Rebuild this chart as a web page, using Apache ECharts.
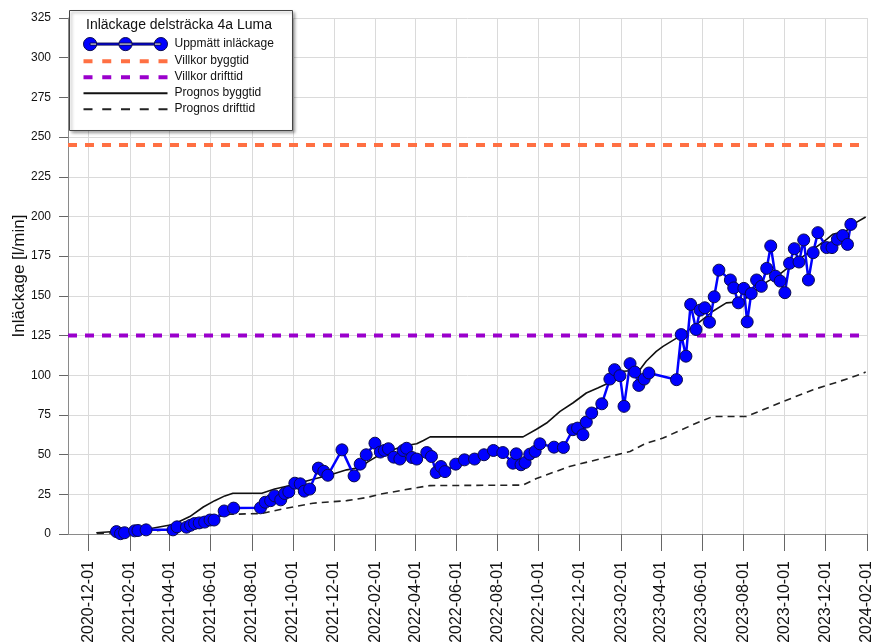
<!DOCTYPE html>
<html>
<head>
<meta charset="utf-8">
<script src="https://cdn.jsdelivr.net/npm/echarts@6/dist/echarts.min.js"></script>
<style>
html,body{margin:0;padding:0;background:#fff;}
#chart{width:873px;height:644px;}
</style>
</head>
<body>
<div id="chart"></div>
<script>
// ---- Data ----
const tickLabels = ['2020-12-01','2021-02-01','2021-04-01','2021-06-01','2021-08-01','2021-10-01','2021-12-01',
  '2022-02-01','2022-04-01','2022-06-01','2022-08-01','2022-10-01','2022-12-01',
  '2023-02-01','2023-04-01','2023-06-01','2023-08-01','2023-10-01','2023-12-01','2024-02-01'];
const xStart = '2020-11-01';
const xEnd = '2024-02-01';

const measDates = ['2021-01-12','2021-01-18','2021-01-24','2021-02-08','2021-02-13','2021-02-25','2021-04-06','2021-04-12',
  '2021-04-26','2021-05-02','2021-05-08','2021-05-15','2021-05-23','2021-05-31','2021-06-06','2021-06-21','2021-07-05',
  '2021-08-14','2021-08-21','2021-08-29','2021-09-04','2021-09-13','2021-09-19','2021-09-25','2021-10-04','2021-10-12',
  '2021-10-18','2021-10-26','2021-11-08','2021-11-16','2021-11-22','2021-12-13','2021-12-31','2022-01-09','2022-01-18',
  '2022-01-31','2022-02-08','2022-02-14','2022-02-20','2022-02-28','2022-03-09','2022-03-14','2022-03-19','2022-03-27',
  '2022-04-03','2022-04-18','2022-04-25','2022-05-02','2022-05-09','2022-05-15','2022-05-31','2022-06-13','2022-06-28',
  '2022-07-12','2022-07-26','2022-08-09','2022-08-24','2022-08-29','2022-09-05','2022-09-11','2022-09-18','2022-09-26',
  '2022-10-03','2022-10-24','2022-11-07','2022-11-21','2022-11-28','2022-12-06','2022-12-11','2022-12-19','2023-01-03',
  '2023-01-15','2023-01-22','2023-01-30','2023-02-05','2023-02-14','2023-02-21','2023-02-27','2023-03-07','2023-03-14',
  '2023-04-24','2023-05-01','2023-05-08','2023-05-15','2023-05-23','2023-05-29','2023-06-05','2023-06-12','2023-06-19',
  '2023-06-26','2023-07-13','2023-07-18','2023-07-25','2023-08-02','2023-08-07','2023-08-13','2023-08-21','2023-08-28',
  '2023-09-05','2023-09-11','2023-09-18','2023-09-25','2023-10-02','2023-10-09','2023-10-16','2023-10-23','2023-10-30',
  '2023-11-06','2023-11-13','2023-11-20','2023-12-03','2023-12-11','2023-12-19','2023-12-27','2024-01-03','2024-01-08'];
const measValues = [1.5,0.2,0.8,2.0,2.2,2.6,2.6,4.5,
  4.3,5.5,6.6,7.0,7.5,8.8,8.8,14.5,16.3,
  16.5,20.0,21.0,24.0,21.5,25.5,26.5,32.0,31.6,
  27.0,28.3,41.5,39.5,37.0,53.0,36.6,44.0,49.9,
  57.2,51.6,52.6,53.7,48.4,47.2,52.6,54.0,48.2,
  47.2,51.3,48.8,38.7,42.5,39.3,44.0,46.7,47.2,
  49.9,52.6,51.3,44.6,50.5,43.6,45.0,50.3,52.0,
  56.8,54.7,54.5,65.7,66.7,62.5,70.5,76.2,82.0,
  97.6,103.5,99.7,80.4,107.3,102.0,93.6,97.6,101.4,
  97.2,125.6,112.0,144.6,128.8,141.0,142.5,133.4,149.4,
  166.2,160.0,155.0,145.6,154.7,133.6,151.5,160.0,156.0,
  167.3,181.4,162.4,159.3,152.0,170.5,179.7,171.3,185.2,
  160.0,177.2,189.8,180.4,180.4,185.6,188.0,182.4,195.0];

const byggDates = ['2020-12-13','2021-02-26','2021-04-06','2021-05-01','2021-05-21','2021-06-07','2021-06-22','2021-07-04',
  '2021-08-16','2021-09-04','2021-09-27','2021-10-31','2021-11-25','2021-12-20','2022-01-09','2022-01-21','2022-02-07',
  '2022-02-27','2022-03-16','2022-04-03','2022-04-13','2022-04-23','2022-09-08','2022-09-28','2022-10-13','2022-11-02',
  '2022-11-21','2022-12-11','2022-12-28','2023-01-10','2023-01-20','2023-02-04','2023-02-28','2023-03-10','2023-03-25',
  '2023-04-04','2023-04-29','2023-05-24','2023-06-17','2023-07-07','2023-07-27','2023-08-06','2023-08-30','2023-09-24',
  '2023-10-19','2023-11-13','2023-12-03','2023-12-12','2024-01-01','2024-01-11','2024-01-30'];
const byggValues = [0.8,3.0,6.0,11.0,17.0,21.0,24.0,25.7,
  25.7,28.4,30.6,34.5,37.2,40.4,41.9,45.6,49.9,
  53.0,55.6,56.8,58.9,61.2,61.2,66.0,69.9,77.2,
  82.5,88.8,92.0,94.5,98.3,102.5,103.2,108.8,115.0,
  118.2,124.6,132.0,140.3,145.6,146.3,148.8,157.2,163.5,
  171.9,179.3,185.6,188.8,190.8,195.0,199.7];

const driftDates = ['2020-12-14','2021-02-27','2021-04-05','2021-05-01','2021-05-21','2021-06-07','2021-06-30','2021-08-16',
  '2021-09-14','2021-10-31','2021-12-20','2022-01-18','2022-02-07','2022-03-29','2022-04-23','2022-09-08','2022-09-28',
  '2022-11-16','2023-01-05','2023-02-14','2023-03-10','2023-04-04','2023-04-29','2023-05-24','2023-06-17','2023-08-06',
  '2023-09-24','2023-11-13','2023-12-22','2024-01-21','2024-01-30'];
const driftValues = [0.3,1.5,3.0,5.5,8.5,10.5,12.4,12.9,
  15.6,19.4,21.0,22.9,25.0,28.8,30.5,30.8,35.0,
  42.5,47.8,52.0,57.2,60.4,65.2,69.9,74.0,74.0,
  82.5,90.9,96.1,100.4,102.0];

const villkorBygg = 245;
const villkorDrift = 125;

const seriesNames = ['Uppmätt inläckage','Villkor byggtid','Villkor drifttid','Prognos byggtid','Prognos drifttid'];
const chartTitle = 'Inläckage delsträcka 4a Luma';
const yAxisName = 'Inläckage [l/min]';

// ---- Build ----
const t = s => Date.parse(s);
const pairs = (d, v) => d.map((x, i) => [t(x), v[i]]);
const FONT = '"Liberation Sans", Arial, sans-serif';
const xMin = t(xStart), xMax = t(xEnd);
const tickVals = tickLabels.map(t);

// legend icon shapes
const threeDots = 'path://M0.5,7A6.5,6.5,0,1,0,13.5,7A6.5,6.5,0,1,0,0.5,7Z' +
  'M35.5,7A6.5,6.5,0,1,0,48.5,7A6.5,6.5,0,1,0,35.5,7Z' +
  'M70.5,7A6.5,6.5,0,1,0,83.5,7A6.5,6.5,0,1,0,70.5,7Z' +
  'M7,6L77,6L77,8L7,8Z';
function dashIcon(h, dash, period, total) {
  let p = 'path://';
  for (let x = 0; x + dash <= total + 0.01; x += period) {
    p += 'M' + x + ',0L' + (x + dash) + ',0L' + (x + dash) + ',' + h + 'L' + x + ',' + h + 'Z';
  }
  return p;
}
const thickDash = dashIcon(4, 9, 18.75, 84);
const thinDash = dashIcon(2, 9, 18.75, 84);
const solidLine = 'path://M0,0L84,0L84,2L0,2Z';

const chart = echarts.init(document.getElementById('chart'), null, {renderer: 'canvas'});

chart.setOption({
  animation: false,
  backgroundColor: '#ffffff',
  textStyle: {fontFamily: FONT},
  grid: {left: 68, right: 6, top: 18, bottom: 110, containLabel: false, outerBoundsMode: 'none'},
  title: {
    text: chartTitle, left: 86, top: 18, padding: 0, z: 102,
    textStyle: {fontFamily: FONT, fontSize: 14, fontWeight: 'normal', color: '#111'}
  },
  graphic: [{
    type: 'rect', left: 69, top: 10, z: 100,
    shape: {width: 223, height: 120},
    style: {fill: '#ffffff', stroke: '#444', lineWidth: 1,
      shadowBlur: 3, shadowOffsetX: 2, shadowOffsetY: 2, shadowColor: 'rgba(0,0,0,0.35)'}
  }],
  legend: {
    orient: 'vertical', left: 69, top: 10, z: 101,
    padding: [27, 10, 7, 14],
    itemWidth: 84, itemHeight: 14, itemGap: 4,
    backgroundColor: 'transparent', borderWidth: 0,
    selectedMode: false,
    textStyle: {fontFamily: FONT, fontSize: 12, color: '#111', padding: [0, 0, 0, 2]},
    data: [
      {name: seriesNames[0], icon: threeDots, itemStyle: {color: '#0000ff', borderColor: '#0a0a50', borderWidth: 1}},
      {name: seriesNames[1], icon: thickDash, itemStyle: {color: '#ff7043', borderWidth: 0}},
      {name: seriesNames[2], icon: thickDash, itemStyle: {color: '#9a00cc', borderWidth: 0}},
      {name: seriesNames[3], icon: solidLine, itemStyle: {color: '#111', borderWidth: 0}},
      {name: seriesNames[4], icon: thinDash, itemStyle: {color: '#222', borderWidth: 0}}
    ]
  },
  xAxis: {
    type: 'value', min: xMin, max: xMax,
    axisLine: {show: true, lineStyle: {color: '#8a8a8a', width: 1.2}},
    axisTick: {show: true, length: 17, customValues: tickVals, lineStyle: {color: '#666', width: 1}},
    axisLabel: {
      customValues: tickVals, rotate: 90, margin: 27,
      fontFamily: FONT, fontSize: 16, color: '#111',
      formatter: v => new Date(v).toISOString().slice(0, 10)
    },
    splitLine: {show: true, lineStyle: {color: '#dadada', width: 1}}
  },
  yAxis: {
    type: 'value', min: 0, max: 325, interval: 25,
    name: yAxisName, nameLocation: 'middle', nameGap: 40, nameRotate: 90,
    nameMoveOverlap: false,
    nameTextStyle: {fontFamily: FONT, fontSize: 17, color: '#111'},
    axisLine: {show: true, lineStyle: {color: '#8a8a8a', width: 1}},
    axisTick: {show: true, length: 9, lineStyle: {color: '#666'}},
    axisLabel: {margin: 17, fontFamily: FONT, fontSize: 12, color: '#111'},
    splitLine: {show: true, lineStyle: {color: '#dadada', width: 1}}
  },
  series: [
    {
      name: seriesNames[1], type: 'line', data: [[xMin, villkorBygg], [xMax, villkorBygg]],
      symbol: 'none', color: '#ff7043', z: 3,
      lineStyle: {color: '#ff7043', width: 4, type: [9, 8]}
    },
    {
      name: seriesNames[2], type: 'line', data: [[xMin, villkorDrift], [xMax, villkorDrift]],
      symbol: 'none', color: '#9a00cc', z: 3,
      lineStyle: {color: '#9a00cc', width: 4, type: [9, 8]}
    },
    {
      name: seriesNames[3], type: 'line', data: pairs(byggDates, byggValues),
      symbol: 'none', color: '#111', z: 4,
      lineStyle: {color: '#111', width: 1.6}
    },
    {
      name: seriesNames[4], type: 'line', data: pairs(driftDates, driftValues),
      symbol: 'none', color: '#222', z: 4,
      lineStyle: {color: '#222', width: 1.6, type: [7, 5]}
    },
    {
      name: seriesNames[0], type: 'line', data: pairs(measDates, measValues),
      symbol: 'circle', symbolSize: 12, color: '#0000ff', z: 5,
      lineStyle: {color: '#0000ff', width: 2.5},
      itemStyle: {color: '#0000ff', borderColor: '#0a0a50', borderWidth: 1}
    }
  ]
});
</script>
</body>
</html>
